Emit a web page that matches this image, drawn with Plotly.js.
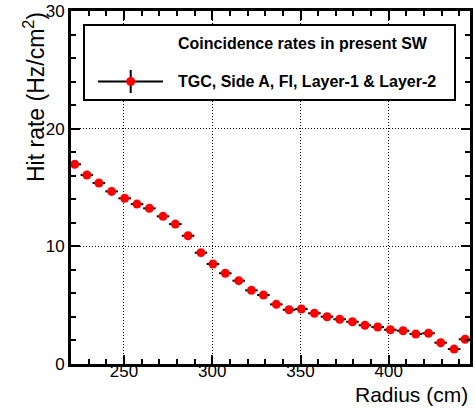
<!DOCTYPE html>
<html>
<head>
<meta charset="utf-8">
<script src="https://cdn.plot.ly/plotly-3.0.1.min.js"></script>
<style>html,body{margin:0;padding:0;background:#fff;}#plot{width:475px;height:408px;}</style>
</head>
<body>
<div id="plot"></div>
<script>
// Data
const radius = [222.1, 229.0, 235.8, 243.0, 250.4, 257.4, 264.4, 272.1, 279.1, 286.3, 293.6, 300.4, 307.4, 315.0, 322.2, 329.0,
                336.3, 343.5, 350.5, 357.9, 365.0, 372.2, 379.4, 386.5, 393.7, 400.9, 408.1, 415.3, 422.5, 429.4, 437.0, 443.2];
const hitRate = [16.97, 16.06, 15.38, 14.67, 14.08, 13.59, 13.23, 12.55, 11.89, 10.90, 9.46, 8.50, 7.71, 7.08, 6.26, 5.86,
                 5.07, 4.61, 4.67, 4.31, 4.02, 3.80, 3.59, 3.29, 3.14, 2.91, 2.83, 2.55, 2.61, 1.81, 1.27, 2.10];
const radiusErr = radius.map(() => 3.55);
const rateErr = hitRate.map(() => 0.08);
const xTickVals = [250, 300, 350, 400];
const yTickVals = [0, 10, 20, 30];
const headerText = 'Coincidence rates in present SW';
const entryText = 'TGC, Side A, FI, Layer-1 & Layer-2';
const xTitle = 'Radius (cm)';
const yTitle = 'Hit rate (Hz/cm<sup>2</sup>)';

const FONT = 'Liberation Sans, Arial, Helvetica, sans-serif';

const trace = {
  x: radius, y: hitRate, type: 'scatter', mode: 'markers',
  marker: {color: '#ff0000', size: 9, symbol: 'circle'},
  error_x: {type: 'data', array: radiusErr, color: '#000', thickness: 2, width: 0},
  error_y: {type: 'data', array: rateErr, color: '#000', thickness: 2, width: 0},
  showlegend: false
};

// pixel -> paper helpers (plot area 71..470 x, 11..364 y)
const L = 71, R = 470, T = 11, B = 364;
const px = v => (v - L) / (R - L);
const py = v => (B - v) / (B - T);

const layout = {
  width: 475, height: 408,
  margin: {l: L, r: 475 - R, t: T, b: 408 - B, pad: 0},
  paper_bgcolor: '#fff', plot_bgcolor: '#fff',
  font: {family: FONT, color: '#000'},
  xaxis: {
    range: [220, 446], tickvals: xTickVals, ticktext: xTickVals.map(String),
    showline: true, linecolor: '#000', linewidth: 3, mirror: 'ticks',
    ticks: 'inside', ticklen: 9, tickwidth: 2, tickcolor: '#000',
    showgrid: true, gridcolor: '#000', gridwidth: 1, griddash: '1px,2px',
    zeroline: false, tickfont: {size: 17, family: FONT}, ticklabelstandoff: -10,
    minor: {dtick: 10, tick0: 0, ticks: 'inside', ticklen: 5, tickwidth: 2, tickcolor: '#000', showgrid: false}
  },
  yaxis: {
    range: [0, 30], tickvals: yTickVals, ticktext: yTickVals.map(String),
    showline: true, linecolor: '#000', linewidth: 3, mirror: 'ticks',
    ticks: 'inside', ticklen: 9, tickwidth: 2, tickcolor: '#000',
    showgrid: true, gridcolor: '#000', gridwidth: 1, griddash: '1px,2px',
    zeroline: false, tickfont: {size: 17, family: FONT},
    minor: {dtick: 2, tick0: 0, ticks: 'inside', ticklen: 5, tickwidth: 2, tickcolor: '#000', showgrid: false}
  },
  shapes: [
    {type: 'rect', xref: 'paper', yref: 'paper', x0: px(84), x1: px(455), y0: py(100), y1: py(25),
     line: {color: '#000', width: 2}, fillcolor: '#fff', layer: 'above'},
    {type: 'line', xref: 'paper', yref: 'paper', x0: px(98), x1: px(163), y0: py(81.5), y1: py(81.5),
     line: {color: '#000', width: 2}, layer: 'above'},
    {type: 'line', xref: 'paper', yref: 'paper', x0: px(130.7), x1: px(130.7), y0: py(93), y1: py(70),
     line: {color: '#000', width: 2}, layer: 'above'},
    {type: 'circle', xref: 'paper', yref: 'paper', x0: px(126.2), x1: px(135.2), y0: py(86), y1: py(77),
     line: {width: 0}, fillcolor: '#ff0000', layer: 'above'}
  ],
  annotations: [
    {text: '<b>' + headerText + '</b>', xref: 'paper', yref: 'paper', x: px(176), y: py(43.5),
     xanchor: 'left', yanchor: 'middle', showarrow: false, font: {size: 16, family: FONT}},
    {text: '<b>' + entryText.replace('&', '&amp;') + '</b>', xref: 'paper', yref: 'paper', x: px(176), y: py(81.5),
     xanchor: 'left', yanchor: 'middle', showarrow: false, font: {size: 16, family: FONT}},
    {text: xTitle, xref: 'paper', yref: 'paper', x: 1, y: py(408), xanchor: 'right', yanchor: 'bottom',
     showarrow: false, font: {size: 21, family: FONT}},
    {text: yTitle, xref: 'paper', yref: 'paper', x: px(34), y: py(10), xanchor: 'center', yanchor: 'top',
     textangle: -90, showarrow: false, font: {size: 23, family: FONT}}
  ]
};

Plotly.newPlot('plot', [trace], layout, {staticPlot: true, displayModeBar: false});
</script>
</body>
</html>
